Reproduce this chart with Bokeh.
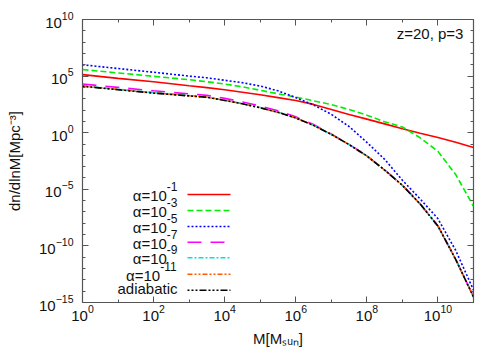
from bokeh.plotting import figure
from bokeh.models import LogAxis, FixedTicker, Label, Range1d
from bokeh.embed import file_html
from bokeh.resources import INLINE

# ---------------- data ----------------
mass = [1e0, 1e1, 1e2, 1e3, 3.16e3, 1e4, 3.16e4, 1e5, 3.16e5, 1e6, 3.16e6, 1e7, 3.16e7,
        1e8, 3.16e8, 1e9, 3.16e9, 1e10, 3.16e10, 1e11]

# log10(dn/dlnM) for each model
alpha_1e1 = [5.13, 4.80, 4.50, 4.15, 3.98, 3.80, 3.58, 3.35, 3.10, 2.85, 2.50, 2.05, 1.60,
             1.20, 0.78, 0.35, -0.05, -0.42, -0.85, -1.30]
alpha_1e3 = [5.58, 5.28, 4.98, 4.68, 4.50, 4.30, 4.05, 3.75, 3.44, 3.15, 2.82, 2.48, 2.05,
             1.55, 0.97, 0.50, -0.45, -1.65, -3.70, -6.50]
alpha_1e5 = [6.00, 5.67, 5.34, 5.00, 4.85, 4.63, 4.42, 4.12, 3.70, 3.10, 2.45, 1.62, 0.55,
             -0.85, -2.35, -4.20, -5.85, -7.60, -10.40, -13.90]
alpha_1e7 = [4.30, 4.00, 3.70, 3.43, 3.30, 3.03, 2.72, 2.36, 1.93, 1.40, 0.72, -0.12, -1.03,
             -2.03, -3.28, -4.63, -6.28, -8.23, -11.18, -14.48]
alpha_1e9 = [4.14, 3.84, 3.54, 3.28, 3.15, 2.87, 2.57, 2.22, 1.81, 1.31, 0.66, -0.15, -1.05,
             -2.05, -3.30, -4.65, -6.30, -8.25, -11.20, -14.50]
alpha_1e11 = [4.12, 3.82, 3.52, 3.26, 3.14, 2.86, 2.56, 2.21, 1.80, 1.30, 0.65, -0.15, -1.05,
              -2.05, -3.30, -4.65, -6.30, -8.25, -11.20, -14.50]
adiabatic = [4.10, 3.80, 3.50, 3.25, 3.13, 2.85, 2.55, 2.20, 1.80, 1.30, 0.65, -0.15, -1.05,
             -2.05, -3.30, -4.65, -6.30, -8.25, -11.20, -14.50]

series_labels = [("α=10", "-1"), ("α=10", "-3"), ("α=10", "-5"), ("α=10", "-7"),
                 ("α=10", "-9"), ("α=10", "-11"), ("adiabatic", "")]
series_values = [alpha_1e1, alpha_1e3, alpha_1e5, alpha_1e7, alpha_1e9, alpha_1e11, adiabatic]
colors = ["#ff0000", "#00ee00", "#0000ff", "#ff00ff", "#00e0e0", "#ff5a00", "#000000"]
dashes = ["solid", "6 3", "2 2", "14 9", "5 2 2 2", "5 2 2 2 2 2", "2 2 2 2 2 2 7 2"]

x_major = [1e0, 1e2, 1e4, 1e6, 1e8, 1e10]
x_minor = [1e1, 1e3, 1e5, 1e7, 1e9, 1e11]
y_major = [1e-15, 1e-10, 1e-5, 1e0, 1e5, 1e10]
y_minor = [10.0 ** k for k in range(-15, 11)]

x_title = "M[Mₛᵤₙ]"
y_title = "dn/dlnM[Mpc⁻³]"
note = "z=20, p=3"

FONT = "Liberation Sans"
INK = "#111111"
LIFT = 7  # Bokeh draws label baselines a little lower than the nominal anchor

# ---------------- figure ----------------
p = figure(width=500, height=350, x_axis_type="log", y_axis_type="log",
           x_range=Range1d(1e0, 1e11), y_range=Range1d(1e-15, 1e10),
           output_backend="svg", toolbar_location=None,
           min_border_left=82, min_border_right=27, min_border_top=19, min_border_bottom=48)
p.grid.visible = False
p.outline_line_color = "#555555"
p.outline_line_width = 1.2
p.background_fill_color = "white"
p.border_fill_color = "white"

def style_axis(ax, show_labels, standoff):
    ax.major_tick_in = 6
    ax.major_tick_out = 0
    ax.minor_tick_in = 3
    ax.minor_tick_out = 0
    ax.major_tick_line_color = "#555555"
    ax.minor_tick_line_color = "#555555"
    ax.axis_line_color = None
    ax.major_label_text_font = FONT
    ax.major_label_text_color = INK
    ax.major_label_standoff = standoff
    ax.major_label_text_font_size = "15px"
    if not show_labels:
        ax.major_label_text_font_size = "2px"
        ax.major_label_text_alpha = 0.0

p.xaxis.ticker = FixedTicker(ticks=x_major, minor_ticks=x_minor)
p.yaxis.ticker = FixedTicker(ticks=y_major, minor_ticks=y_minor)
style_axis(p.xaxis[0], True, 2)
style_axis(p.yaxis[0], True, 9)

for ax in (p.xaxis[0], p.yaxis[0]):
    ax.axis_label_text_font = FONT
    ax.axis_label_text_font_size = "15px"
    ax.axis_label_text_font_style = "normal"
    ax.axis_label_text_color = INK
p.xaxis.axis_label = x_title
p.yaxis.axis_label = y_title
p.xaxis.axis_label_standoff = 6
p.yaxis.axis_label_standoff = 13

top = LogAxis(ticker=FixedTicker(ticks=x_major, minor_ticks=x_minor))
right = LogAxis(ticker=FixedTicker(ticks=y_major, minor_ticks=y_minor))
style_axis(top, False, 0)
style_axis(right, False, 0)
p.add_layout(top, "above")
p.add_layout(right, "right")

# curves
for vals, col, dsh in zip(series_values, colors, dashes):
    p.line(mass, [10.0 ** v for v in vals], line_color=col, line_width=1.6, line_dash=dsh)

# ---------------- manual layout helpers (picture pixel -> data) ----------------
def X(px):
    return 10.0 ** ((px - 82.0) / 35.55)

def Y(py):
    return 10.0 ** (10.0 - (py - 19.0) / 11.32)

# legend (text on the left, sample line on the right)
rows = [194, 210, 226, 241.7, 257.3, 273.7, 289.7]
for (base, sup), col, dsh, ly in zip(series_labels, colors, dashes, rows):
    p.line([X(187), X(230)], [Y(ly), Y(ly)], line_color=col, line_width=1.6, line_dash=dsh)
    if sup:
        sup_w = 0.012 * (333 + 556 * (len(sup) - 1))
        end = 177 - sup_w
        p.add_layout(Label(x=X(end), y=Y(ly + 8 - LIFT), text=base, text_align="right",
                           text_baseline="alphabetic", text_font=FONT, text_font_size="15px",
                           text_color=INK))
        p.add_layout(Label(x=X(end), y=Y(ly - 1 - LIFT), text=sup, text_align="left",
                           text_baseline="alphabetic", text_font=FONT, text_font_size="12px",
                           text_color=INK))
    else:
        p.add_layout(Label(x=X(177), y=Y(ly + 5.5 - LIFT), text=base, text_align="right",
                           text_baseline="alphabetic", text_font=FONT, text_font_size="15px",
                           text_color=INK))

# annotation text
p.add_layout(Label(x=X(463), y=Y(40 - LIFT), text=note, text_align="right",
                   text_baseline="alphabetic", text_font=FONT, text_font_size="15px",
                   text_color=INK))

open("out.html", "w").write(file_html(p, INLINE))
